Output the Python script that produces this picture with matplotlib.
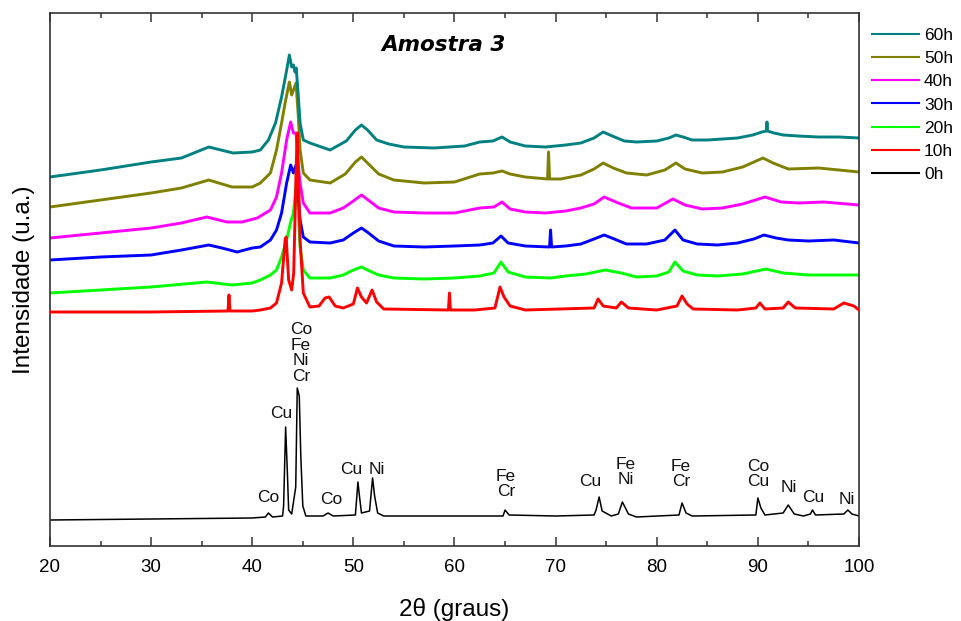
from matplotlib import pyplot as plt

plt.rcParams["font.family"] = ["Liberation Sans", "DejaVu Sans"]

# 2theta positions and intensities (a.u., stacked offsets already included)
x_0h = [20, 30, 40, 41.3, 41.6, 42.0, 43.0, 43.1, 43.3, 43.45, 43.6, 43.9, 44.3,
        44.45, 44.65, 44.8, 45.0, 45.3, 47.0, 47.5, 48.0, 50.2, 50.45, 50.6, 50.8,
        51.6, 51.9, 52.1, 52.4, 53, 60, 64.8, 65.0, 65.4, 70, 73.8, 74.0, 74.3,
        74.6, 75.5, 76.2, 76.6, 77.2, 78, 82.2, 82.5, 82.9, 83.5, 89.8, 90.0,
        90.3, 90.7, 92.5, 93.0, 93.6, 94.5, 95.2, 95.4, 95.7, 98.5, 98.9, 99.3, 100]
y_0h = [26, 27, 28, 29, 33, 29, 30, 40, 119, 80, 36, 32, 59,
        158, 150, 90, 40, 30, 30, 33, 30, 31, 64, 50, 33,
        35, 68, 50, 33, 30, 30, 30, 36, 31, 30, 31, 36, 49,
        35, 30, 32, 44, 32, 29, 31, 43, 33, 30, 31, 48,
        38, 31, 33, 41, 32, 30, 32, 36, 31, 32, 36, 32, 30]

x_10h = [20, 30, 37.6, 37.7, 37.8, 40, 40.8, 41.8, 42.4, 42.9, 43.25, 43.35, 43.6,
         43.9, 44.1, 44.33, 44.45, 44.56, 44.73, 45.05, 45.7, 46.6, 47.2, 47.6,
         48.2, 49, 50.0, 50.4, 50.8, 51.3, 51.85, 52.3, 53, 59.4, 59.5, 59.6, 62,
         64.0, 64.5, 64.9, 65.5, 67, 73.8, 74.2, 74.7, 76.0, 76.5, 77.2, 80, 82.0,
         82.5, 83.0, 83.6, 88, 89.8, 90.2, 90.7, 92.5, 93.0, 93.7, 97.5, 98.5,
         99.5, 100]
y_10h = [234, 234, 235, 251, 235, 235, 236, 238, 243, 263, 306, 309, 266,
         256, 273, 373, 413, 373, 306, 253, 239, 240, 248, 249,
         240, 238, 242, 258, 249, 243, 256, 244, 237, 236, 253, 236, 236,
         238, 259, 249, 240, 236, 238, 247, 240, 238, 244, 238, 236, 240,
         250, 242, 237, 236, 238, 243, 237, 238, 244, 238, 237, 243,
         240, 236]

x_20h = [20, 25, 30, 35.5, 38, 40, 40.8, 41.8, 42.4, 42.9, 43.4, 43.8, 44.07,
         44.33, 44.56, 44.73, 45.05, 45.7, 47.7, 49, 50.0, 50.8, 51.6, 52.5, 54,
         57, 60, 62.5, 63.9, 64.6, 65.3, 67, 69.5, 71, 73, 74.9, 76.5, 78, 80,
         81.2, 81.8, 82.6, 84, 86, 88.5, 90.8, 92.5, 95, 97.5, 100]
y_20h = [253, 256, 259, 264, 261, 263, 266, 271, 276, 289, 306, 324, 333,
         359, 333, 299, 276, 268, 268, 271, 276, 279, 275, 271, 268,
         267, 268, 270, 273, 284, 274, 269, 268, 270, 272, 276, 273, 269, 270,
         274, 284, 275, 271, 270, 272, 277, 273, 271, 271, 271]

x_30h = [20, 25, 30, 33, 35.7, 37, 38.5, 40, 40.8, 41.8, 42.4, 42.9, 43.4, 43.8,
         44.07, 44.33, 44.56, 44.73, 45.05, 45.7, 47.7, 49, 50.0, 50.8, 51.5,
         52.5, 54, 57, 60, 62.5, 63.8, 64.6, 65.3, 67, 69.4, 69.5, 69.6, 71, 72.5,
         73.8, 74.8, 75.8, 77, 79, 80.8, 81.8, 82.6, 84, 86, 88, 89.6, 90.6, 91.8,
         93, 95, 97.5, 100]
y_30h = [286, 289, 291, 296, 301, 298, 294, 298, 299, 306, 316, 333, 363, 381,
         373, 381, 349, 326, 309, 304, 303, 306, 313, 318, 313,
         305, 300, 299, 300, 301, 303, 310, 303, 300, 299, 316, 299, 300, 302,
         307, 311, 307, 302, 302, 306, 316, 306, 302, 301, 303, 307, 311, 308,
         306, 305, 306, 303]

x_40h = [20, 25, 30, 33, 35.5, 37.5, 39, 40.5, 41.8, 42.4, 42.9, 43.4, 43.8,
         44.07, 44.33, 44.56, 44.73, 45.05, 45.7, 47.7, 49, 50.0, 50.8, 51.6,
         52.5, 54, 57, 60, 62.5, 63.9, 64.7, 65.5, 67, 69, 71, 72.5, 73.8, 74.8,
         76.2, 77.5, 80, 81.6, 82.8, 84.5, 86.5, 88.5, 90.7, 92.3, 94, 96.5, 100]
y_40h = [308, 313, 318, 323, 329, 324, 324, 328, 336, 349, 373, 406, 424,
         413, 413, 379, 363, 343, 333, 333, 338, 345, 351, 345,
         338, 334, 333, 333, 338, 339, 344, 337, 334, 333, 335, 338, 342, 349,
         343, 338, 338, 347, 341, 337, 338, 342, 349, 344, 343, 344, 341]

x_50h = [20, 25, 30, 33, 35.7, 38, 40, 40.8, 41.8, 42.4, 42.9, 43.25, 43.67,
         43.9, 44.33, 44.56, 44.73, 45.05, 45.7, 47.7, 49.2, 50.2, 50.8, 51.5,
         52.5, 54, 57, 60, 62.5, 63.8, 64.7, 65.5, 67, 69.2, 69.3, 69.4, 70.5,
         72.5, 73.8, 74.7, 75.7, 77, 79, 80.8, 81.9, 82.8, 84.5, 86.5, 88.5,
         90.5, 91.5, 93, 96, 100]
y_50h = [339, 346, 353, 358, 366, 359, 359, 363, 373, 396, 423, 443, 464,
         451, 463, 429, 396, 373, 366, 363, 372, 384, 389, 382,
         372, 366, 363, 364, 372, 373, 375, 372, 369, 367, 394, 367, 367,
         371, 377, 383, 378, 373, 371, 376, 383, 377, 373, 374, 379,
         388, 383, 377, 378, 374]

x_60h = [20, 25, 30, 33, 35.7, 38.1, 40, 40.8, 41.6, 42.3, 42.9, 43.35, 43.67,
         43.9, 44.07, 44.23, 44.35, 44.56, 44.73, 45.05, 45.7, 47.7, 49.3, 50.2,
         50.8, 51.4, 52.3, 53.5, 55, 58, 61, 62.5, 63.8, 64.7, 65.5, 67, 69,
         71, 72.5, 73.8, 74.7, 75.6, 76.8, 78, 80, 81.2, 81.9, 82.6, 83.5, 85,
         86.5, 88, 89.5, 90.4, 90.85, 90.9, 90.95, 91.6, 92.5, 94, 96, 98, 100]
y_60h = [369, 376, 384, 388, 399, 393, 394, 396, 406, 423, 449, 473, 491,
         479, 481, 474, 478, 449, 423, 406, 403, 396, 405, 416,
         421, 416, 406, 402, 399, 398, 400, 404, 405, 409, 404, 400, 399,
         401, 403, 408, 414, 410, 405, 404, 405, 408, 411, 409, 406, 406,
         407, 408, 411, 414, 415, 424, 415, 413, 411, 410, 409, 409, 408]

# name, x, y, colour, line width, zorder (10h sits on top of the main peak)
series = [
    ("0h", x_0h, y_0h, "#000000", 1.1, 2),
    ("10h", x_10h, y_10h, "#ff0000", 2.1, 3),
    ("20h", x_20h, y_20h, "#00ff00", 2.1, 2),
    ("30h", x_30h, y_30h, "#0000ff", 2.1, 2),
    ("40h", x_40h, y_40h, "#ff00ff", 2.1, 2),
    ("50h", x_50h, y_50h, "#808000", 2.1, 2),
    ("60h", x_60h, y_60h, "#008080", 2.1, 2),
]

# phase labels on the 0h pattern: (text, 2theta, height)
phase_labels = [
    ("Co", 41.55, 49), ("Cu", 42.85, 133), ("Co\nFe\nNi\nCr", 44.8, 193),
    ("Co", 47.8, 47), ("Cu", 49.75, 77), ("Ni", 52.3, 77),
    ("Fe\nCr", 65.1, 62), ("Cu", 73.4, 64), ("Fe\nNi", 76.9, 74),
    ("Fe\nCr", 82.4, 72), ("Co\nCu", 90.0, 72), ("Ni", 93.1, 59),
    ("Cu", 95.5, 48), ("Ni", 98.8, 46),
]

fig = plt.figure(figsize=(9.61, 6.21), dpi=100)
ax = fig.add_axes([50 / 961, 75 / 621, 809 / 961, 533 / 621])

lines = {}
for name, xs, ys, color, lw, z in series:
    lines[name], = ax.plot(xs, ys, color=color, lw=lw, label=name, zorder=z,
                           solid_joinstyle="round")

for txt, xp, yp in phase_labels:
    ax.text(xp, yp, txt, ha="center", va="center", fontsize=12.5,
            linespacing=1.05, color="#111111")

ax.text(0.486, 0.94, "Amostra 3", transform=ax.transAxes, ha="center",
        va="center", fontsize=15.5, fontweight="bold", fontstyle="italic",
        family="DejaVu Sans")

ax.set_xlim(20, 100)
ax.set_ylim(0, 533)
ax.set_xticks(range(20, 101, 10))
ax.set_xticks(range(25, 100, 10), minor=True)
ax.set_yticks([])
ax.tick_params(axis="x", which="both", direction="in", top=True,
               labelsize=13.5, pad=9, color="#333333", width=1.1)
ax.tick_params(axis="x", which="major", length=6.5)
ax.tick_params(axis="x", which="minor", length=3.5)
for sp in ax.spines.values():
    sp.set_linewidth(1.2)
    sp.set_color("#333333")

ax.set_xlabel("2\u03b8 (graus)", fontsize=17.5, labelpad=16)
ax.set_ylabel("Intensidade (u.a.)", fontsize=17.5)
ax.yaxis.set_label_coords(-0.019, 0.5)

order = ["60h", "50h", "40h", "30h", "20h", "10h", "0h"]
leg = fig.legend([lines[k] for k in order], order, loc="upper left",
                 bbox_to_anchor=(872 / 961, 1 - 28 / 621), frameon=False,
                 fontsize=12.5, handlelength=2.7, handletextpad=0.3,
                 labelspacing=0.46, borderpad=0, borderaxespad=0)
for h in leg.legend_handles:
    h.set_linewidth(1.5)

fig.savefig("out.png", dpi=100)
